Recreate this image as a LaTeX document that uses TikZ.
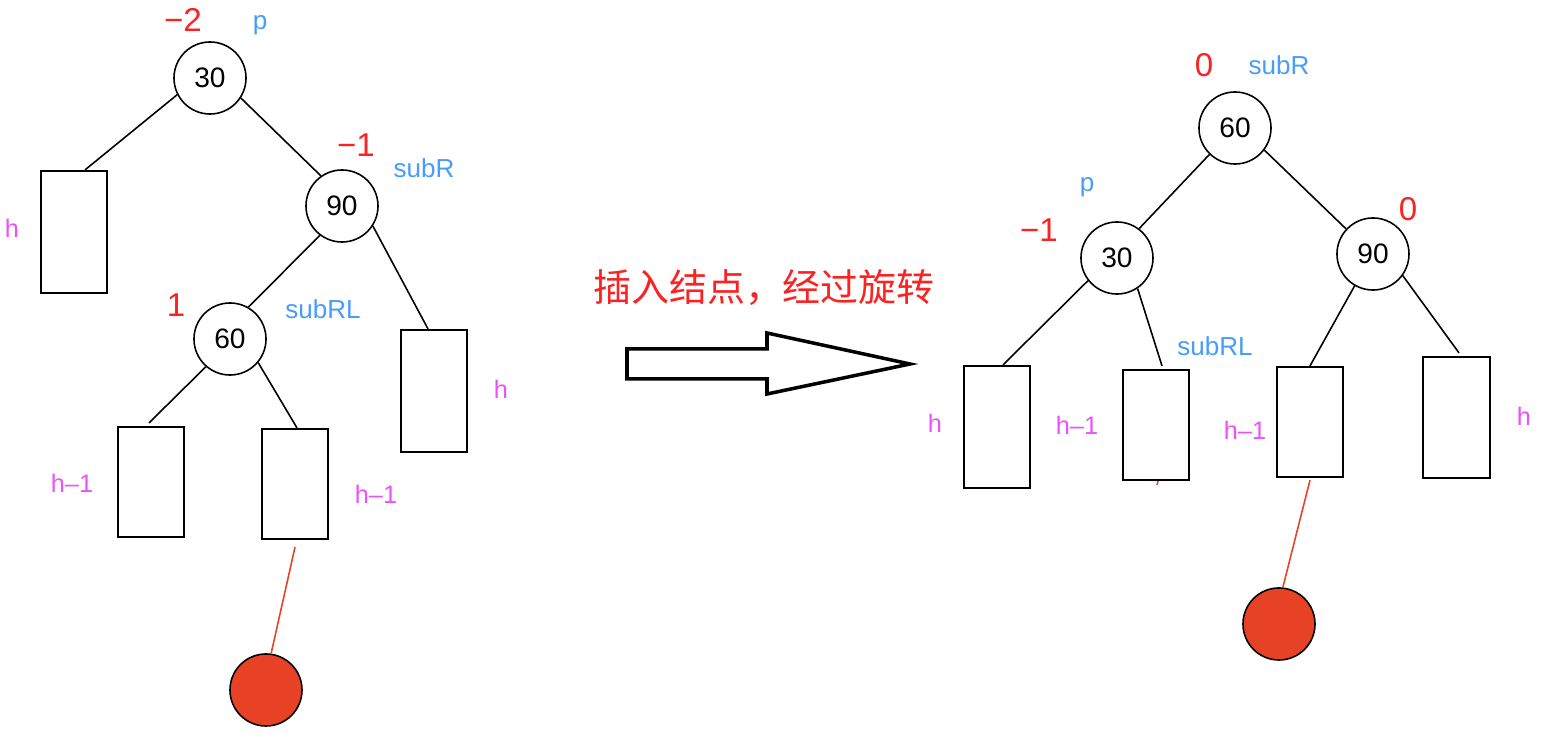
\documentclass[tikz,border=0pt]{standalone}
\usepackage{fontspec}
\setmainfont{Liberation Sans}
\newfontfamily\cjk{Noto Sans CJK SC}
\usepackage{tikz}
\usepackage{xcolor}
\usetikzlibrary{arrows.meta,positioning}

\definecolor{balred}{RGB}{250,35,35}
\definecolor{tagblue}{RGB}{72,156,250}
\definecolor{hpink}{RGB}{236,82,250}
\definecolor{newred}{RGB}{232,66,38}

\tikzset{
  key/.style={draw, circle, minimum size=0.72cm, inner sep=0pt, line width=0.45pt, font=\fontsize{8}{9}\selectfont},
  newkey/.style={key, fill=newred},
  subtree/.style={draw, rectangle, minimum width=0.66cm, inner sep=0pt, line width=0.6pt},
  bal/.style={text=balred, inner sep=0pt, font=\fontsize{9.4}{10}\selectfont},
  tag/.style={text=tagblue, inner sep=0pt, font=\fontsize{7.4}{8}\selectfont},
  ht/.style={text=hpink, inner sep=0pt, font=\fontsize{7.2}{8}\selectfont},
  edge/.style={line width=0.45pt},
  newedge/.style={line width=0.45pt, draw=newred}
}

\begin{document}
\begin{tikzpicture}[x=0.01cm, y=-0.01cm]
    \useasboundingbox (0,0) rectangle (1541,734);

    % before: p = 30 leans right, subR = 90, subRL = 60
    \node[key] (p30) at (210,78) {30};
    \node[key] (sr90) at (342,206) {90};
    \node[key] (srl60) at (230,339) {60};
    \node[subtree, minimum height=1.22cm] (lb) at (74,232) {};
    \node[subtree, minimum height=1.22cm] (rb) at (434,391) {};
    \node[subtree, minimum height=1.10cm] (llb) at (151,482) {};
    \node[subtree, minimum height=1.10cm] (lrb) at (295,484) {};
    \node[newkey] (ins) at (266,690) {};

    \node[bal] at (183,20) {−2};
    \node[tag] at (260,25) {p};
    \node[bal] at (356,145) {−1};
    \node[tag] at (424,168) {subR};
    \node[bal] at (176,305) {1};
    \node[tag] at (323,309) {subRL};
    \node[ht] at (12,228) {h};
    \node[ht] at (501,389) {h};
    \node[ht] at (72,483) {h--1};
    \node[ht] at (376,494) {h--1};

    \draw[edge] (p30.207) -- ([xshift=0.11cm]lb.north);
    \draw[edge] (p30.-33) -- (sr90.125);
    \draw[edge] (sr90.233) -- (srl60.60);
    \draw[edge] (sr90.-33) -- ([xshift=-0.06cm]rb.north);
    \draw[edge] (srl60.229) -- ([xshift=-0.02cm,yshift=0.03cm]llb.north);
    \draw[edge] (srl60.-40) -- ([xshift=0.02cm]lrb.north);
    \draw[newedge] ([yshift=-0.07cm]lrb.south) -- (ins.82);

    % rotation
    \node[text=balred, font=\cjk\fontsize{10.8}{12}\selectfont] (cap) at (764,288) {插入结点，经过旋转};
    \draw[line width=1pt, miter limit=20] (627,349) -- (767,349) -- (767,333) -- (910,364)
        -- (767,394) -- (767,379) -- (627,379) -- cycle;

    % after: subRL = 60 is the new root
    \node[key] (r60) at (1235,128) {60};
    \node[key] (r30) at (1117,258) {30};
    \node[key] (r90) at (1373,254) {90};
    \node[subtree, minimum height=1.22cm] (ra) at (997,427) {};
    \node[subtree, minimum height=1.10cm] (rb2) at (1156,425) {};
    \node[subtree, minimum height=1.10cm] (rc) at (1310,422) {};
    \node[subtree, minimum height=1.21cm, minimum width=0.67cm] (rd) at (1456.5,417.5) {};
    \node[newkey] (rins) at (1279,624) {};
    \coordinate (stub) at (1157,485);

    \node[bal] at (1204,65) {0};
    \node[tag] at (1279,65) {subR};
    \node[tag] at (1087,187) {p};
    \node[bal] at (1039,230) {−1};
    \node[bal] at (1408,209) {0};
    \node[tag] at (1215,346) {subRL};
    \node[ht] at (935,423) {h};
    \node[ht] at (1077,425) {h--1};
    \node[ht] at (1245,430) {h--1};
    \node[ht] at (1524,416) {h};

    \draw[edge] (r60.226) -- (r30.53);
    \draw[edge] (r60.-37) -- (r90.137);
    \draw[edge] (r30.218) -- ([xshift=0.06cm]ra.north);
    \draw[edge] (r30.-56) -- ([xshift=0.06cm,yshift=0.03cm]rb2.north);
    \draw[edge] (r90.240) -- (rc.north);
    \draw[edge] (r90.-36) -- ([xshift=0.025cm,yshift=0.03cm]rd.north);
    \draw[newedge] ([yshift=-0.02cm]rc.south) -- (rins.84);
    \draw[newedge] ([xshift=0.02cm]rb2.south) -- (stub);
\end{tikzpicture}
\end{document}
